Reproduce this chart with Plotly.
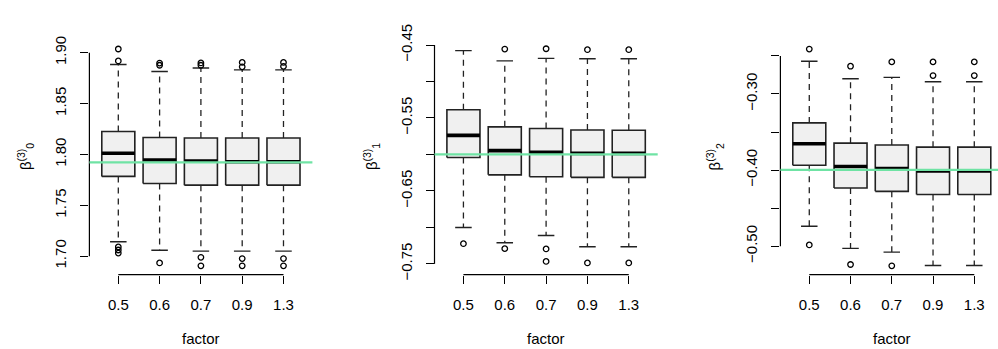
import plotly.graph_objects as go

# ---------------- data ----------------
factors = ["0.5", "0.6", "0.7", "0.9", "1.3"]

# panel 1: beta^(3)_0
b0_q1 = [1.7784, 1.7714, 1.7698, 1.7698, 1.7698]
b0_med = [1.8011, 1.7946, 1.7934, 1.7928, 1.7928]
b0_q3 = [1.8225, 1.8167, 1.8161, 1.8161, 1.8161]
b0_lo = [1.7141, 1.7058, 1.7049, 1.7049, 1.7049]
b0_hi = [1.8884, 1.8816, 1.8850, 1.8832, 1.8832]
b0_out = [[1.9037, 1.8920, 1.7090, 1.7060, 1.7030],
          [1.8899, 1.8877, 1.6933],
          [1.8900, 1.8877, 1.6988, 1.6905],
          [1.8905, 1.8862, 1.6976, 1.6905],
          [1.8905, 1.8866, 1.6976, 1.6905]]
b0_true = 1.7922
b0_ticks = [1.70, 1.75, 1.80, 1.85, 1.90]
b0_ticklabels = ["1.70", "1.75", "1.80", "1.85", "1.90"]

# panel 2: beta^(3)_1
b1_q1 = [-0.6041, -0.6280, -0.6305, -0.6314, -0.6314]
b1_med = [-0.5738, -0.5947, -0.5972, -0.5985, -0.5985]
b1_q3 = [-0.5388, -0.5622, -0.5644, -0.5665, -0.5669]
b1_lo = [-0.7001, -0.7210, -0.7112, -0.7265, -0.7265]
b1_hi = [-0.4577, -0.4718, -0.4683, -0.4688, -0.4688]
b1_out = [[-0.7223],
          [-0.4555, -0.7291],
          [-0.4551, -0.7295, -0.7466],
          [-0.4564, -0.7487],
          [-0.4564, -0.7487]]
b1_true = -0.5998
b1_ticks = [-0.75, -0.70, -0.65, -0.60, -0.55, -0.50, -0.45]
b1_ticklabels = ["\u22120.75", "", "\u22120.65", "", "\u22120.55", "", "\u22120.45"]

# panel 3: beta^(3)_2
b2_q1 = [-0.3936, -0.4235, -0.4280, -0.4321, -0.4321]
b2_med = [-0.3654, -0.3953, -0.3981, -0.4010, -0.4010]
b2_q3 = [-0.3380, -0.3646, -0.3670, -0.3699, -0.3699]
b2_lo = [-0.4738, -0.5029, -0.5078, -0.5254, -0.5254]
b2_hi = [-0.2570, -0.2799, -0.2782, -0.2840, -0.2840]
b2_out = [[-0.2410, -0.4984],
          [-0.2635, -0.5241],
          [-0.2578, -0.5258],
          [-0.2578, -0.2758],
          [-0.2578, -0.2758]]
b2_true = -0.3998
b2_ticks = [-0.50, -0.45, -0.40, -0.35, -0.30, -0.25]
b2_ticklabels = ["\u22120.50", "", "\u22120.40", "", "\u22120.30", ""]

panels = [
    dict(q1=b0_q1, med=b0_med, q3=b0_q3, lo=b0_lo, hi=b0_hi, out=b0_out, true=b0_true,
         ticks=b0_ticks, labels=b0_ticklabels, sub="0"),
    dict(q1=b1_q1, med=b1_med, q3=b1_q3, lo=b1_lo, hi=b1_hi, out=b1_out, true=b1_true,
         ticks=b1_ticks, labels=b1_ticklabels, sub="1"),
    dict(q1=b2_q1, med=b2_med, q3=b2_q3, lo=b2_lo, hi=b2_hi, out=b2_out, true=b2_true,
         ticks=b2_ticks, labels=b2_ticklabels, sub="2"),
]

# ---------------- layout geometry (pixels) ----------------
W, H = 998, 349
x_dom_px = [(89.4, 312.4), (434.5, 657.7), (780.4, 998.0)]
x_ranges = [[0.3, 5.7], [0.3, 5.7], [0.3, 5.575]]
y_ranges = [[1.6819, 1.9122], [-0.7646, -0.4436], [-0.5373, -0.2295]]
y_dom = [1 - 275.7 / H, 1 - 25 / H]
ytitle_x_px = [25, 371, 714.3]

FONT = "Liberation Sans, Arial, Helvetica, sans-serif"
FS = 15
BOXW = 0.4   # half box width
STAPW = 0.2  # half staple width
EDGE = "#222222"

fig = go.Figure()
shapes = []
annotations = []

for k, p in enumerate(panels):
    xa = "x" if k == 0 else f"x{k+1}"
    ya = "y" if k == 0 else f"y{k+1}"
    xs = list(range(1, len(factors) + 1))

    bx, by, mx, my, wx, wy, sx, sy, ox, oy = [], [], [], [], [], [], [], [], [], []
    for i, x in enumerate(xs):
        bx += [x - BOXW, x + BOXW, x + BOXW, x - BOXW, x - BOXW, None]
        by += [p["q1"][i], p["q1"][i], p["q3"][i], p["q3"][i], p["q1"][i], None]
        mx += [x - BOXW, x + BOXW, None]
        my += [p["med"][i], p["med"][i], None]
        wx += [x, x, None, x, x, None]
        wy += [p["q3"][i], p["hi"][i], None, p["q1"][i], p["lo"][i], None]
        sx += [x - STAPW, x + STAPW, None, x - STAPW, x + STAPW, None]
        sy += [p["hi"][i], p["hi"][i], None, p["lo"][i], p["lo"][i], None]
        for v in p["out"][i]:
            ox.append(x)
            oy.append(v)

    fig.add_trace(go.Scatter(x=wx, y=wy, mode="lines", xaxis=xa, yaxis=ya,
                             line=dict(color=EDGE, width=1.3, dash="6px,5px"),
                             hoverinfo="skip", showlegend=False))
    fig.add_trace(go.Scatter(x=sx, y=sy, mode="lines", xaxis=xa, yaxis=ya,
                             line=dict(color=EDGE, width=1.4),
                             hoverinfo="skip", showlegend=False))
    fig.add_trace(go.Scatter(x=bx, y=by, mode="lines", fill="toself", xaxis=xa, yaxis=ya,
                             fillcolor="#F0F0F0", line=dict(color=EDGE, width=1.6),
                             hoverinfo="skip", showlegend=False))
    fig.add_trace(go.Scatter(x=mx, y=my, mode="lines", xaxis=xa, yaxis=ya,
                             line=dict(color="#000000", width=3.6),
                             hoverinfo="skip", showlegend=False))
    fig.add_trace(go.Scatter(x=ox, y=oy, mode="markers", xaxis=xa, yaxis=ya,
                             marker=dict(symbol="circle-open", size=5.5,
                                         color="#000000", line=dict(width=1.3)),
                             hoverinfo="skip", showlegend=False))

    major_vals = [t for t, l in zip(p["ticks"], p["labels"]) if l]
    major_text = [l for l in p["labels"] if l]
    minor_vals = [t for t, l in zip(p["ticks"], p["labels"]) if not l]

    xd = [x_dom_px[k][0] / W, x_dom_px[k][1] / W]
    axis_font = dict(family=FONT, size=FS, color="#000000")
    ydict = dict(
        domain=y_dom, range=y_ranges[k], anchor=xa,
        tickvals=major_vals, ticktext=major_text, ticks="outside", ticklen=8,
        tickwidth=1.2, tickcolor="#000000", showline=False, showgrid=False,
        zeroline=False, tickfont=axis_font, tickangle=-90, ticklabelstandoff=8)
    if minor_vals:
        ydict["minor"] = dict(tickmode="array", tickvals=minor_vals, ticks="outside",
                              ticklen=8, tickwidth=1.2, tickcolor="#000000", showgrid=False)
    fig.update_layout(**{
        ("xaxis" if k == 0 else f"xaxis{k+1}"): dict(
            domain=xd, range=x_ranges[k], anchor=ya,
            tickvals=xs, ticktext=factors, ticks="outside", ticklen=8,
            tickwidth=1.2, tickcolor="#000000", showline=False, showgrid=False,
            zeroline=False, tickfont=axis_font, ticklabelstandoff=8),
        ("yaxis" if k == 0 else f"yaxis{k+1}"): ydict,
    })

    # axis lines spanning first to last tick (R style), in domain fractions
    xr0, xr1 = x_ranges[k]
    yr0, yr1 = y_ranges[k]
    shapes.append(dict(type="line", xref=f"{xa} domain", yref=f"{ya} domain",
                       x0=0, x1=0,
                       y0=(p["ticks"][0] - yr0) / (yr1 - yr0),
                       y1=(p["ticks"][-1] - yr0) / (yr1 - yr0),
                       line=dict(color="#000000", width=1.2), layer="above"))
    shapes.append(dict(type="line", xref=f"{xa} domain", yref=f"{ya} domain",
                       x0=(xs[0] - xr0) / (xr1 - xr0), x1=(xs[-1] - xr0) / (xr1 - xr0),
                       y0=0, y1=0,
                       line=dict(color="#000000", width=1.2), layer="above"))
    # true value line
    shapes.append(dict(type="line", xref=f"{xa} domain", yref=ya,
                       x0=0, x1=1, y0=p["true"], y1=p["true"],
                       line=dict(color="#6FE3A4", width=2.2), layer="above"))

    # titles
    annotations.append(dict(
        text=f"\u03b2<sup>(3)</sup><sub>{p['sub']}</sub>", xref="paper", yref="paper",
        x=ytitle_x_px[k] / W, y=1 - 150 / H, xanchor="center", yanchor="middle",
        textangle=-90, showarrow=False, font=dict(family=FONT, size=FS, color="#000000")))
    annotations.append(dict(
        text="factor", xref=xa, yref="paper", x=3.0, y=0,
        xanchor="center", yanchor="bottom", yshift=-6,
        showarrow=False, font=dict(family=FONT, size=FS, color="#000000")))

fig.update_layout(
    width=W, height=H, margin=dict(l=0, r=0, t=0, b=0),
    paper_bgcolor="white", plot_bgcolor="white",
    shapes=shapes, annotations=annotations, showlegend=False,
    font=dict(family=FONT, color="#000000"),
)

fig.write_html(
    "out.html",
    config={"displayModeBar": False},
    post_script="document.body.style.margin='0px';document.body.style.overflow='hidden';",
)
